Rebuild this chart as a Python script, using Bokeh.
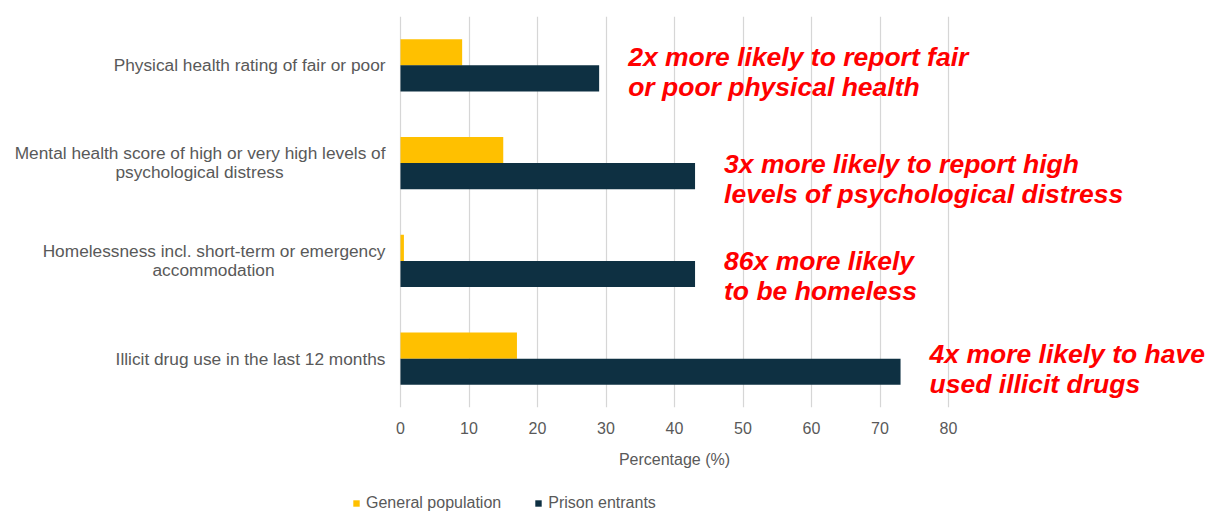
from bokeh.plotting import figure
from bokeh.layouts import column
from bokeh.models import (FactorRange, Range1d, FixedTicker, ColumnDataSource,
                          Legend, LegendItem)
from bokeh.transform import dodge
from bokeh.core.properties import value
from bokeh.embed import file_html
from bokeh.resources import INLINE

# ---------------- data ----------------
keys = ["physical", "mental", "homeless", "drugs"]
label_lines = [
    ["Physical health rating of fair or poor"],
    ["Mental health score of high or very high levels of", "psychological distress"],
    ["Homelessness incl. short-term or emergency", "accommodation"],
    ["Illicit drug use in the last 12 months"],
]
general_population = [9, 15, 0.5, 17]
prison_entrants = [29, 43, 43, 73]
annotation_lines = [
    ["2x more likely to report fair", "or poor physical health"],
    ["3x more likely to report high", "levels of psychological distress"],
    ["86x more likely", "to be homeless"],
    ["4x more likely to have", "used illicit drugs"],
]
x_ticks = [0, 10, 20, 30, 40, 50, 60, 70, 80]
series_names = ["General population", "Prison entrants"]
x_title = "Percentage (%)"

# ---------------- style / layout ----------------
YELLOW = "#FFC000"
NAVY = "#0E3042"
GREY_TXT = "#595959"
RED = "#FF0000"
FONT = "Liberation Sans"

W = 1206
H_MAIN, H_FOOT = 445, 68
px_per_unit = 6.85
x0_px = 400
x_range = Range1d(-x0_px / px_per_unit, (W - x0_px) / px_per_unit)

p = figure(width=W, height=H_MAIN, output_backend="svg", toolbar_location=None,
           y_range=FactorRange(factors=keys[::-1]), x_range=x_range,
           y_axis_location=None,
           min_border_left=0, min_border_right=0,
           min_border_top=16, min_border_bottom=38)
p.outline_line_color = None
p.ygrid.grid_line_color = None
p.xgrid.grid_line_color = "#D6D6D6"
p.xgrid.grid_line_width = 1.2

ax = p.xaxis[0]
ax.ticker = FixedTicker(ticks=x_ticks)
ax.axis_line_color = None
ax.major_tick_out = 0
ax.major_tick_in = 0
ax.minor_tick_out = 0
ax.minor_tick_in = 0
ax.major_label_standoff = 14
ax.major_label_text_font = FONT
ax.major_label_text_font_size = "16px"
ax.major_label_text_color = GREY_TXT

src = ColumnDataSource(dict(key=keys, gen=general_population, pris=prison_entrants))
bar_h = 0.266
r1 = p.hbar(y=dodge("key", bar_h / 2, range=p.y_range), left=0, right="gen",
            height=bar_h, source=src, fill_color=YELLOW, line_color=None)
r2 = p.hbar(y=dodge("key", -bar_h / 2, range=p.y_range), left=0, right="pris",
            height=bar_h, source=src, fill_color=NAVY, line_color=None)

# category labels (left of the bars)
label_right = -15 / px_per_unit
line2_centers = {"mental": -201 / px_per_unit, "homeless": -187 / px_per_unit}
lx, ly, lt, lal, loff = [], [], [], [], []
for k, lines in zip(keys, label_lines):
    if len(lines) == 1:
        lx.append(label_right); ly.append(k); lt.append(lines[0])
        lal.append("right"); loff.append(0)
    else:
        lx.append(label_right); ly.append(k); lt.append(lines[0])
        lal.append("right"); loff.append(-10)
        lx.append(line2_centers[k]); ly.append(k); lt.append(lines[1])
        lal.append("center"); loff.append(9)
lab_src = ColumnDataSource(dict(x=lx, y=ly, t=lt, al=lal, off=loff))
p.text(x="x", y="y", text="t", source=lab_src, text_align="al",
       text_baseline="alphabetic", y_offset="off",
       text_font=value(FONT), text_font_size="17.3px", text_color=GREY_TXT)

# red annotations next to prison bars
ann_off1 = [-8, 1, 0, -5]
ax_, ay_, at_, aoff = [], [], [], []
for k, v, lines, o in zip(keys, prison_entrants, annotation_lines, ann_off1):
    for i, line in enumerate(lines):
        ax_.append(v); ay_.append(k); at_.append(line); aoff.append(o + 30 * i)
ann_src = ColumnDataSource(dict(x=ax_, y=ay_, t=at_, off=aoff))
p.text(x="x", y="y", text="t", source=ann_src, x_offset=29, y_offset="off",
       text_align="left", text_baseline="alphabetic",
       text_font=value(FONT), text_font_size="26.5px",
       text_font_style="bold italic", text_color=RED)

# ---------------- footer: axis title + legend ----------------
f = figure(width=W, height=H_FOOT, output_backend="svg", toolbar_location=None,
           x_range=x_range, y_range=Range1d(H_FOOT, 0),
           x_axis_location=None, y_axis_location=None,
           min_border_left=0, min_border_right=0,
           min_border_top=0, min_border_bottom=0)
f.outline_line_color = None
f.xgrid.visible = False
f.ygrid.visible = False

f.text(x=[(x_ticks[0] + x_ticks[-1]) / 2], y=[14], text=[x_title],
       text_align="center", text_baseline="middle",
       text_font=value(FONT), text_font_size="16px", text_color=GREY_TXT)

# legend swatches: zero-area bars, only used to give the legend its glyphs
swatch = ColumnDataSource(dict(y=[34], left=[0], right=[0]))
fr1 = f.hbar(y="y", left="left", right="right", height=0, source=swatch,
             fill_color=YELLOW, line_color=None)
fr2 = f.hbar(y="y", left="left", right="right", height=0, source=swatch,
             fill_color=NAVY, line_color=None)

legend = Legend(items=[LegendItem(label=series_names[0], renderers=[fr1], index=0),
                       LegendItem(label=series_names[1], renderers=[fr2], index=0)],
                orientation="horizontal", location=(352, 1),
                glyph_width=8, glyph_height=8, label_standoff=6, spacing=33,
                padding=0, margin=0, border_line_color=None,
                background_fill_alpha=0,
                label_text_font=FONT, label_text_font_size="16px",
                label_text_color=GREY_TXT)
f.add_layout(legend)

layout = column(p, f, spacing=0)
open("out.html", "w").write(file_html(layout, INLINE))
